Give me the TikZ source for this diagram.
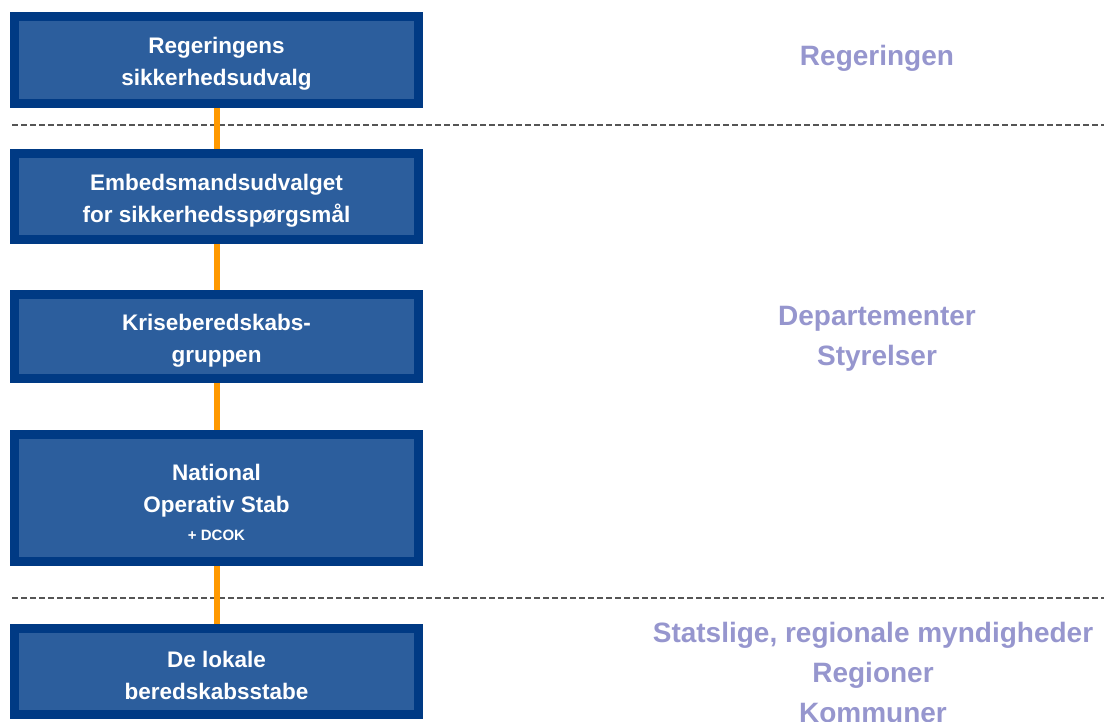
\documentclass[tikz,border=0pt]{standalone}
\usepackage{fontspec}
\setmainfont{Liberation Sans}
\definecolor{boxborder}{RGB}{0,58,132}
\definecolor{boxfill}{RGB}{44,94,157}
\definecolor{conncol}{RGB}{255,153,0}
\definecolor{lvl}{RGB}{150,150,206}
\definecolor{dashcol}{RGB}{85,85,85}
\tikzset{
  orgbox/.style={draw=boxborder, fill=boxfill, line width=9pt, outer sep=4.5pt,
    minimum width=404pt, inner sep=0pt},
  boxtext/.style={align=center, text=white, inner sep=0pt, yshift=-4pt,
    font=\bfseries\fontsize{22.5}{32}\selectfont},
  conn/.style={draw=conncol, line width=6pt},
  sep/.style={draw=dashcol, line width=1.5pt, dash pattern=on 6pt off 3pt},
  level/.style={text=lvl, align=center, font=\bfseries\fontsize{28}{40}\selectfont, inner sep=0pt}
}
\begin{document}
\begin{tikzpicture}[x=1pt,y=-1pt]
\useasboundingbox (0,0) rectangle (1104,722);
% separators
\coordinate (s1a) at (12,125);
\coordinate (s1b) at (1110,125);
\coordinate (s2a) at (12,598);
\coordinate (s2b) at (1110,598);
\draw[sep] (s1a) -- (s1b);
\draw[sep] (s2a) -- (s2b);
% boxes
\node[orgbox, minimum height=87pt] (b1) at (216.5,60) {};
\node[orgbox, minimum height=86pt] (b2) at (216.5,196.5) {};
\node[orgbox, minimum height=84pt] (b3) at (216.5,336.5) {};
\node[orgbox, minimum height=127pt] (b4) at (216.5,498) {};
\node[orgbox, minimum height=86pt] (b5) at (216.5,671.5) {};
% box texts
\node[boxtext] (t1) at (b1.center) {Regeringens\\sikkerhedsudvalg};
\node[boxtext] (t2) at (b2.center) {Embedsmandsudvalget\\for sikkerhedsspørgsmål};
\node[boxtext] (t3) at (b3.center) {Kriseberedskabs-\\gruppen};
\node[boxtext] (t4) at (b4.center) {National\\Operativ Stab\\[-4pt]{\fontsize{15}{18}\selectfont + DCOK}};
\node[boxtext] (t5) at (b5.center) {De lokale\\beredskabsstabe};
% connectors
\draw[conn] (b1.south) -- (b2.north);
\draw[conn] (b2.south) -- (b3.north);
\draw[conn] (b3.south) -- (b4.north);
\draw[conn] (b4.south) -- (b5.north);
% level labels
\node[level] (l1) at (877,58) {Regeringen};
\node[level] (l2) at (877,339) {Departementer\\Styrelser};
\node[level, anchor=north] (l3) at (873,622) {Statslige, regionale myndigheder\\Regioner\\Kommuner};
\end{tikzpicture}
\end{document}
